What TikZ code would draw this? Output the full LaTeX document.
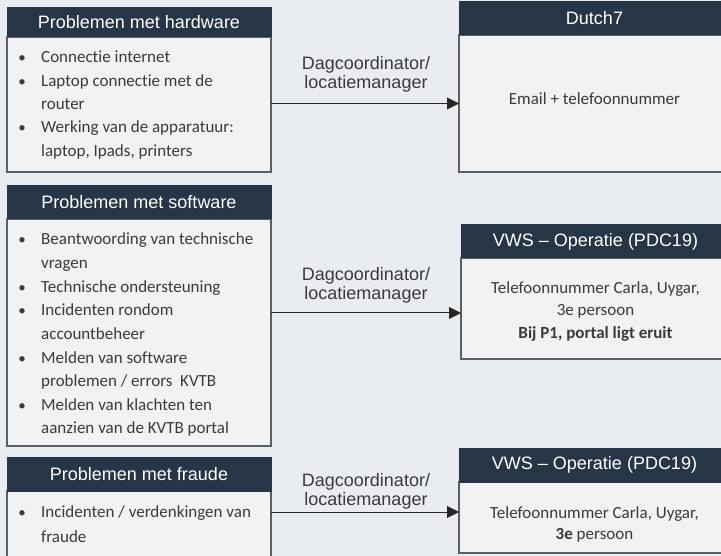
\documentclass[tikz,border=0pt]{standalone}
\usepackage{fontspec}
\setmainfont{Carlito}[Ligatures=NoCommon]
\newfontfamily\arialf{Liberation Sans}
\usetikzlibrary{arrows.meta}
\definecolor{bg}{HTML}{E9EDF1}
\definecolor{boxfill}{HTML}{F2F2F2}
\definecolor{hdrc}{HTML}{263646}
\definecolor{edgec}{HTML}{5A5F66}
\definecolor{txtc}{HTML}{3A3A3A}
\begin{document}
\begin{tikzpicture}[x=1pt,y=-1pt,
  bodybox/.style={draw=edgec, line width=1.2pt, fill=boxfill, inner sep=0pt, outer sep=0pt, anchor=north west},
  hdrbox/.style={draw=hdrc, line width=1pt, fill=hdrc, inner sep=0pt, outer sep=0pt, anchor=north west, text=white, font=\arialf\fontsize{18}{20}\selectfont},
  itemtxt/.style={anchor=base west, inner sep=0pt, text=txtc, font=\fontsize{17}{20}\selectfont},
  ctrtxt/.style={anchor=base, inner sep=0pt, text=txtc, font=\fontsize{17}{20}\selectfont},
  bul/.style={anchor=base, inner sep=0pt, text=txtc, font=\fontsize{15}{20}\selectfont},
  lbl/.style={align=center, inner sep=0pt, text=txtc, font=\arialf\fontsize{18}{19}\selectfont},
  conn/.style={draw=black!85, line width=1pt, -{Triangle[length=12pt,width=12pt]}}
]
\useasboundingbox (0,0) rectangle (721,556);
\fill[bg] (0,0) rectangle (721,556);
\clip (0,0) rectangle (721,556);

% ---------- Hardware ----------
\node[bodybox, minimum width=264pt, minimum height=135pt] (hwb) at (7,37) {};
\node[hdrbox, minimum width=264pt, minimum height=29pt] (hwh) at (7,8) {Problemen met hardware};
\node[bul] (hwd1) at (22,63) {•};
\node[itemtxt] (hw1) at (41,63) {Connectie internet};
\node[bul] (hwd2) at (22,86.3) {•};
\node[itemtxt] (hw2) at (41,86.3) {Laptop connectie met de};
\node[itemtxt] (hw3) at (41,109.6) {router};
\node[bul] (hwd3) at (22,132.9) {•};
\node[itemtxt] (hw4) at (41,132.9) {Werking van de apparatuur:};
\node[itemtxt] (hw5) at (41,156.2) {laptop, Ipads, printers};

% ---------- Software ----------
\node[bodybox, minimum width=264pt, minimum height=227pt] (swb) at (7,219) {};
\node[hdrbox, minimum width=264pt, minimum height=33pt] (swh) at (7,186) {Problemen met software};
\node[bul] (swd1) at (22,245) {•};
\node[itemtxt] (sw1) at (41,245) {Beantwoording van technische};
\node[itemtxt] (sw2) at (41,268.6) {vragen};
\node[bul] (swd2) at (22,292.2) {•};
\node[itemtxt] (sw3) at (41,292.2) {Technische ondersteuning};
\node[bul] (swd3) at (22,315.8) {•};
\node[itemtxt] (sw4) at (41,315.8) {Incidenten rondom};
\node[itemtxt] (sw5) at (41,339.4) {accountbeheer};
\node[bul] (swd4) at (22,363) {•};
\node[itemtxt] (sw6) at (41,363) {Melden van software};
\node[itemtxt] (sw7) at (41,386.6) {problemen / errors\ \ KVTB};
\node[bul] (swd5) at (22,410.2) {•};
\node[itemtxt] (sw8) at (41,410.2) {Melden van klachten ten};
\node[itemtxt] (sw9) at (41,433.8) {aanzien van de KVTB portal};

% ---------- Fraude ----------
\node[bodybox, minimum width=264pt, minimum height=80pt] (frb) at (7,491) {};
\node[hdrbox, minimum width=264pt, minimum height=34pt] (frh) at (7,457) {Problemen met fraude};
\node[bul] (frd1) at (22,517) {•};
\node[itemtxt] (fr1) at (41,517) {Incidenten / verdenkingen van};
\node[itemtxt] (fr2) at (41,542) {fraude};

% ---------- Dutch7 ----------
\node[bodybox, minimum width=271pt, minimum height=137pt] (d7b) at (459,35) {};
\node[hdrbox, minimum width=271pt, minimum height=33pt] (d7h) at (459,2) {Dutch7};
\node[ctrtxt] (d71) at (594.5,105) {Email + telefoonnummer};

% ---------- VWS 1 ----------
\node[bodybox, minimum width=269pt, minimum height=101pt] (v1b) at (461,258) {};
\node[hdrbox, minimum width=269pt, minimum height=33pt] (v1h) at (461,225) {VWS – Operatie (PDC19)};
\node[ctrtxt] (v11) at (595.5,294) {Telefoonnummer Carla, Uygar,};
\node[ctrtxt] (v12) at (595.5,316) {3e persoon};
\node[ctrtxt] (v13) at (595.5,338) {\bfseries Bij P1, portal ligt eruit};

% ---------- VWS 2 ----------
\node[bodybox, minimum width=271pt, minimum height=71pt] (v2b) at (459,482) {};
\node[hdrbox, minimum width=271pt, minimum height=34pt] (v2h) at (459,448) {VWS – Operatie (PDC19)};
\node[ctrtxt] (v21) at (594.5,518) {Telefoonnummer Carla, Uygar,};
\node[ctrtxt] (v22) at (594.5,539) {\textbf{3e} persoon};

% ---------- Connectors ----------
\coordinate (v1in) at ([yshift=-4.5pt]v1b.west);
\coordinate (v2in) at ([yshift=5.5pt]v2b.west);
\draw[conn] (hwb.east |- d7b.west) -- (d7b.west);
\draw[conn] (swb.east |- v1in) -- (v1in);
\draw[conn] (frb.east |- v2in) -- (v2in);

\node[lbl] (l1) at (366,74.5) {Dagcoordinator/\\locatiemanager};
\node[lbl] (l2) at (366,285.5) {Dagcoordinator/\\locatiemanager};
\node[lbl] (l3) at (366,491.5) {Dagcoordinator/\\locatiemanager};
\end{tikzpicture}
\end{document}
